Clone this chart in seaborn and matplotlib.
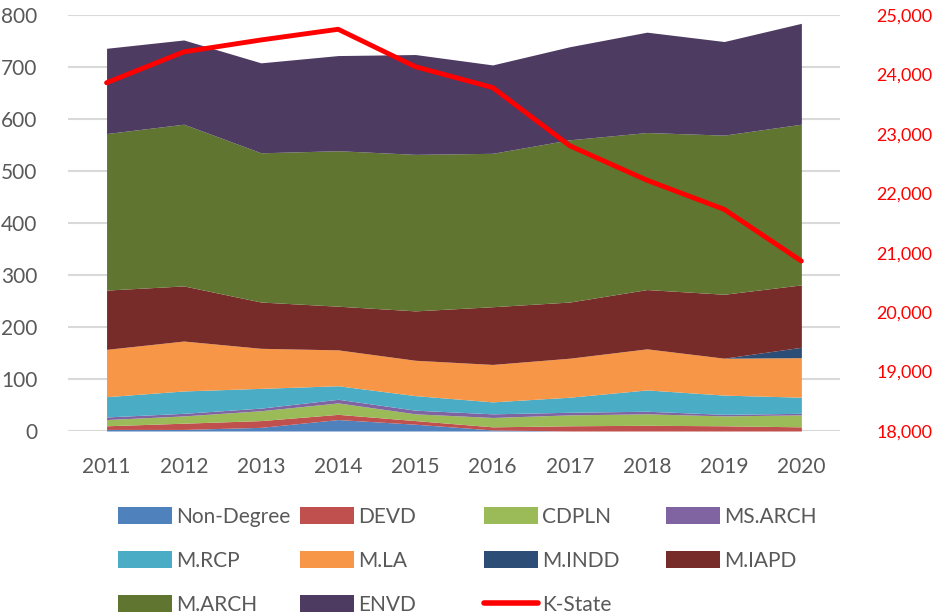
import numpy as np
import pandas as pd
import seaborn as sns
import matplotlib.pyplot as plt
from matplotlib.patches import Patch
from matplotlib.lines import Line2D
from matplotlib.ticker import FuncFormatter

years = [2011, 2012, 2013, 2014, 2015, 2016, 2017, 2018, 2019, 2020]

# enrollment by program (stacked, bottom to top)
non_degree = [3, 3, 7, 22, 13, 2, 0, 0, 0, 0]
devd = [7, 12, 13, 10, 7, 6, 10, 11, 10, 8]
cdpln = [12, 14, 19, 22, 13, 18, 21, 22, 19, 23]
ms_arch = [5, 5, 5, 7, 7, 7, 5, 5, 3, 3]
m_rcp = [39, 43, 38, 26, 28, 23, 29, 41, 37, 31]
m_la = [91, 96, 77, 69, 68, 72, 75, 79, 71, 76]
m_indd = [0, 0, 0, 0, 0, 0, 0, 0, 0, 20]
m_iapd = [114, 106, 89, 84, 95, 111, 108, 114, 123, 120]
m_arch = [301, 311, 287, 299, 301, 295, 312, 302, 306, 309]
envd = [164, 162, 173, 183, 192, 170, 179, 193, 180, 194]

# university-wide enrollment (right axis)
kstate = [23860, 24380, 24580, 24760, 24130, 23780, 22800, 22220, 21730, 20860]

programs = ["Non-Degree", "DEVD", "CDPLN", "MS.ARCH", "M.RCP", "M.LA",
            "M.INDD", "M.IAPD", "M.ARCH", "ENVD"]
colors = ["#4F81BD", "#C0504D", "#9BBB59", "#8064A2", "#4BACC6", "#F79646",
          "#2C4D75", "#772C2A", "#5F7530", "#4D3B62"]

sns.set_theme(style="white")
plt.rcParams["font.family"] = ["Lato", "DejaVu Sans"]
txt = "#595959"
fs = 15

fig = plt.figure(figsize=(9.36, 6.15), dpi=100)
ax = fig.add_axes([0.0726, 0.2992, 0.8248, 0.6764])

stack = [non_degree, devd, cdpln, ms_arch, m_rcp, m_la, m_indd, m_iapd, m_arch, envd]
ax.stackplot(years, stack, colors=colors, labels=programs, linewidth=0)

ax.set_xlim(2010.5, 2020.5)
ax.set_ylim(0, 800)
ax.set_yticks(range(0, 801, 100))
ax.set_xticks(years)
ax.grid(axis="y", color="#D9D9D9", linewidth=1.5)
ax.set_axisbelow(True)
for s in ax.spines.values():
    s.set_visible(False)
ax.tick_params(axis="y", labelsize=fs, labelcolor=txt, length=0, pad=22)
ax.tick_params(axis="x", labelsize=fs, labelcolor=txt, length=0, pad=19)

ax2 = ax.twinx()
df_k = pd.DataFrame({"year": years, "kstate": kstate})
sns.lineplot(data=df_k, x="year", y="kstate", ax=ax2, color="#FF0000",
             linewidth=3.5, solid_capstyle="round")
ax2.set_ylim(18000, 25000)
ax2.set_yticks(range(18000, 25001, 1000))
ax2.yaxis.set_major_formatter(FuncFormatter(lambda v, p: f"{int(v):,}"))
ax2.tick_params(axis="y", length=0, pad=26)
for t in ax2.get_yticklabels():
    t.set_fontsize(13)
    t.set_color("#FF0000")
ax2.set_xlabel("")
ax2.set_ylabel("")
ax2.grid(False)
for s in ax2.spines.values():
    s.set_visible(False)

# legend laid out like Excel: 4 equal-width columns, filled row by row
handles = [Patch(facecolor=c, edgecolor="none") for c in colors]
handles.append(Line2D([0], [0], color="#FF0000", linewidth=4))
labels = programs + ["K-State"]
col_x = [118, 300, 484, 666]
for ci, x0 in enumerate(col_x):
    idx = list(range(ci, len(labels), 4))
    fig.legend([handles[i] for i in idx], [labels[i] for i in idx],
               loc="upper left", bbox_to_anchor=(x0 / 936, 1 - 507 / 615),
               frameon=False, fontsize=fs, labelcolor=txt,
               handlelength=2.6, handleheight=0.85, handletextpad=0.2,
               labelspacing=1.15, borderpad=0, borderaxespad=0)

fig.savefig("out.png", dpi=100)
